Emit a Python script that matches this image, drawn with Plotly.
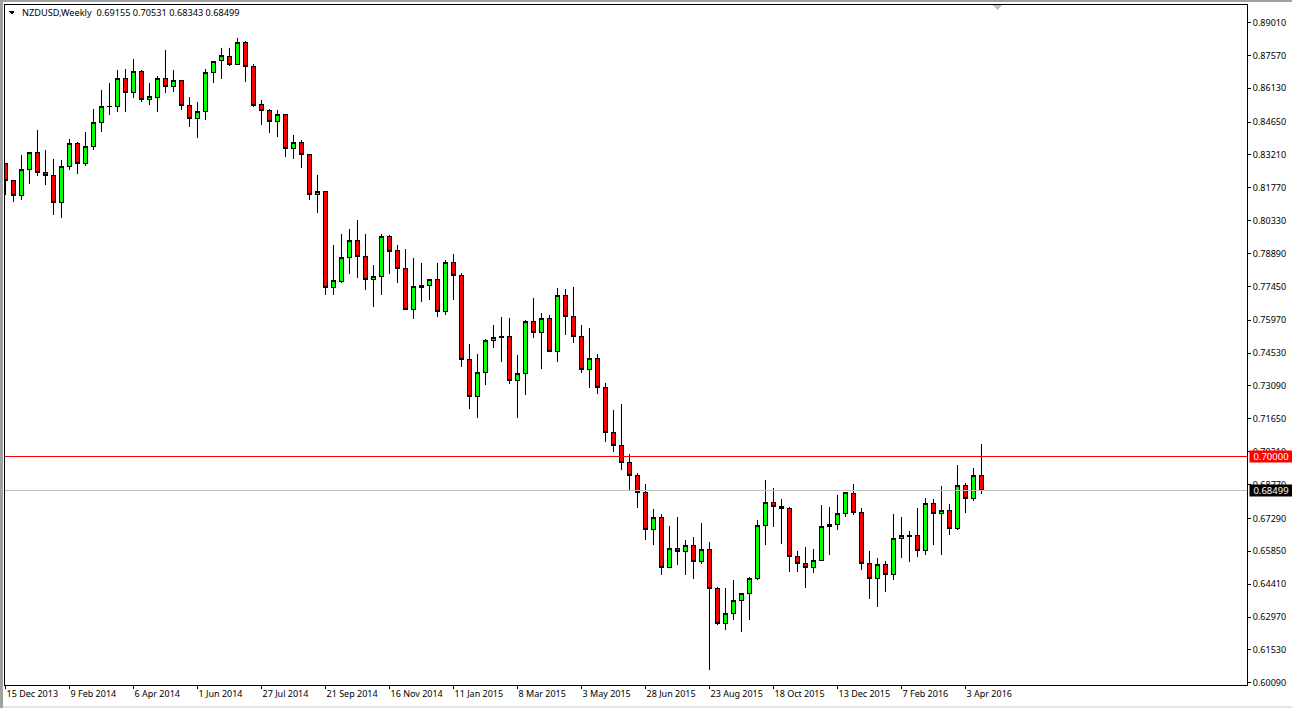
import pandas as pd
import plotly.graph_objects as go

opens = [.82820,.82075,.81418,.82557,.83301,.82425,.82294,.81111,.82688,.83696,.82820,.83564,.84615,.85316,.85345,.86543,.85959,.86849,.85652,.85740,
 .86543,.86221,.86455,.85360,.84791,.85097,.86805,.87331,.87506,.87156,.88119,.87068,.85404,.85141,.84659,.84966,.83477,.83739,.83214,.81462,
 .81593,.77418,.77680,.78702,.79447,.78746,.77739,.77870,.79622,.79009,.78221,.76425,.77418,.77476,.77739,.76337,.78483,.77914,.74235,.72614,
 .73665,.75067,.75198,.75242,.73315,.73622,.75899,.75417,.76031,.74585,.77038,.76118,.75242,.73797,.74279,.73008,.71037,.70468,.69723,.69154,
 .68409,.66789,.67314,.65124,.65957,.65825,.66088,.65387,.65913,.64205,.62672,.63110,.63679,.63986,.64643,.66964,.67971,.67796,.67709,.65606,
 .65300,.65124,.65431,.66920,.67008,.67490,.68366,.67533,.65300,.64643,.65256,.64818,.66395,.66511,.66526,.65869,.67928,.67490,.67621,.66833,
 .68716,.68147,.69155]
highs = [.82863,.82119,.83185,.83345,.84323,.83447,.83053,.82966,.83929,.83798,.84236,.85243,.86032,.86382,.86951,.86995,.87433,.86937,.86382,.86674,
 .87784,.86951,.86499,.85769,.85550,.86981,.87331,.87915,.87915,.88353,.88207,.87200,.85594,.85229,.85156,.84966,.84061,.83885,.83214,.82309,
 .81620,.79286,.79768,.79987,.80338,.79768,.78410,.79768,.79710,.79286,.79111,.78717,.78498,.77739,.78498,.78615,.78892,.78060,.74950,.74512,
 .75169,.75739,.76133,.76089,.74425,.75958,.76965,.76308,.76177,.77388,.77345,.77447,.75782,.75651,.74498,.73227,.72016,.72322,.70118,.69285,
 .68804,.67709,.67490,.66964,.67358,.66351,.66482,.67095,.66263,.64292,.64248,.64570,.64029,.64730,.67227,.68979,.68628,.68147,.67796,.65869,
 .66044,.65971,.67884,.67796,.68322,.68453,.68804,.67752,.65869,.65562,.65431,.67490,.67358,.66745,.67752,.68190,.68147,.68716,.67928,.69636,
 .68847,.69504,.70531]
lows = [.81447,.81141,.81257,.81958,.82279,.81914,.80557,.80469,.82528,.82396,.82717,.83447,.84236,.84980,.85112,.85112,.85725,.85550,.85418,.85112,
 .85944,.85988,.85199,.84455,.83973,.84761,.86382,.86557,.87097,.87156,.86426,.85331,.84542,.84192,.84017,.83141,.83053,.82659,.81257,.80688,
 .77067,.77096,.77593,.78016,.77841,.77315,.76571,.77096,.78016,.77622,.76425,.76045,.76790,.76877,.76133,.76220,.76834,.73943,.72103,.71709,
 .73111,.74775,.74162,.73198,.71709,.72716,.75213,.73855,.74585,.74162,.75301,.74994,.73680,.73023,.72760,.70658,.70220,.69388,.68541,.67767,
 .66365,.66146,.64832,.65124,.65227,.64832,.64657,.65314,.60642,.62628,.62423,.62818,.62336,.62861,.64570,.66146,.66935,.66190,.64964,.64964,
 .64263,.64920,.65431,.65665,.66760,.67373,.67460,.65051,.63781,.63431,.64088,.64570,.65577,.65402,.65621,.65665,.66146,.65708,.66584,.66760,
 .67548,.68044,.68343]
closes = [.82075,.81418,.82557,.83301,.82425,.82294,.81111,.82688,.83696,.82820,.83564,.84615,.85316,.85345,.86543,.85959,.86849,.85652,.85754,.86543,
 .86221,.86455,.85360,.84791,.85097,.86805,.87287,.87550,.87156,.88119,.87068,.85389,.85141,.84659,.84966,.83477,.83739,.83214,.81462,.81593,
 .77418,.77695,.78702,.79447,.78746,.77739,.77870,.79622,.78965,.78221,.76425,.77432,.77476,.77739,.76337,.78483,.77914,.74235,.72614,.73665,
 .75067,.75198,.75242,.73315,.73622,.75899,.75417,.76031,.74585,.77038,.76118,.75242,.73797,.74279,.73008,.71037,.70468,.69723,.69154,.68409,
 .66789,.67314,.65124,.65957,.65825,.66088,.65387,.65913,.64205,.62672,.63110,.63679,.63986,.64643,.66964,.67971,.67796,.67709,.65606,.65300,
 .65124,.65431,.66920,.67008,.67490,.68409,.67533,.65300,.64643,.65256,.64818,.66395,.66526,.66541,.65869,.67928,.67490,.67621,.66833,.68716,
 .68147,.69154,.68499]
week_start = "2013-12-15"
date_ticks = ["2013-12-15","2014-02-09","2014-04-06","2014-06-01","2014-07-27","2014-09-21","2014-11-16","2015-01-11",
              "2015-03-08","2015-05-03","2015-06-28","2015-08-23","2015-10-18","2015-12-13","2016-02-07","2016-04-03"]
date_labels = ["15 Dec 2013","9 Feb 2014","6 Apr 2014","1 Jun 2014","27 Jul 2014","21 Sep 2014","16 Nov 2014","11 Jan 2015",
               "8 Mar 2015","3 May 2015","28 Jun 2015","23 Aug 2015","18 Oct 2015","13 Dec 2015","7 Feb 2016","3 Apr 2016"]
price_ticks = [0.89010,0.87570,0.86130,0.84650,0.83210,0.81770,0.80330,0.78890,0.77450,0.75970,0.74530,
               0.73090,0.71650,0.70210,0.68770,0.67290,0.65850,0.64410,0.62970,0.61530,0.60090]
level_line = 0.70000
last_price = closes[-1]
header = "NZDUSD,Weekly  0.69155 0.70531 0.68343 0.68499"

dates = pd.date_range(week_start, periods=len(opens), freq="7D")
FONT = "Noto Sans"
fig = go.Figure(go.Candlestick(
    x=dates, open=opens, high=highs, low=lows, close=closes,
    increasing=dict(line=dict(color="black", width=1), fillcolor="#00ff00"),
    decreasing=dict(line=dict(color="black", width=1), fillcolor="#ff0000"),
    whiskerwidth=0, showlegend=False))

def tag(val, bg):
    return dict(x=1, xref="paper", xanchor="left", xshift=2, y=val, yref="y", yanchor="middle",
                text=f"{val:.5f}", showarrow=False, bgcolor=bg, width=42, height=11, borderpad=0,
                font=dict(family=FONT, size=9.5, color="white"))

fig.update_layout(
    width=1292, height=708, autosize=False,
    margin=dict(l=5, r=45, t=5, b=23, autoexpand=False),
    paper_bgcolor="white", plot_bgcolor="white", boxgap=0.5, boxgroupgap=0,
    font=dict(family=FONT, size=9, color="black"),
    xaxis=dict(type="date", range=["2013-12-14 13:30", "2016-12-05 07:30"], rangeslider=dict(visible=False),
               tickmode="array", tickvals=date_ticks, ticktext=date_labels, ticks="outside", ticklen=3,
               tickcolor="black", ticklabelposition="outside right", tickangle=0, showgrid=False, zeroline=False,
               automargin=False, showline=True, linecolor="black", linewidth=1, mirror=True, tickfont=dict(size=9)),
    yaxis=dict(side="right", range=[0.599925, 0.897765], tickmode="array", tickvals=price_ticks,
               ticktext=[f"{v:.5f}" for v in price_ticks], ticks="outside", ticklen=3, tickcolor="black",
               automargin=False, showgrid=False, zeroline=False, showline=True, linecolor="black", linewidth=1, mirror=True,
               tickfont=dict(size=9)),
    shapes=[
        dict(type="line", xref="paper", x0=0, x1=1, yref="y", y0=level_line, y1=level_line, line=dict(color="#ff0000", width=1), layer="above"),
        dict(type="line", xref="paper", x0=0, x1=1, yref="y", y0=last_price, y1=last_price, line=dict(color="#c0c0c0", width=1), layer="above"),
        dict(type="path", xref="paper", yref="paper", path="M 0.7955 1 L 0.8035 1 L 0.7995 0.9926 Z", fillcolor="#c0c0c0", line=dict(width=0)),
        dict(type="path", xref="paper", yref="paper", path="M 0.00266 0.9912 L 0.00805 0.9912 L 0.00535 0.9860 Z", fillcolor="black", line=dict(width=0)),
        dict(type="rect", xref="paper", yref="paper", x0=-0.00403, x1=-0.0018, y0=-0.034, y1=1.0074, fillcolor="#a0a0a0", line=dict(width=0)),
        dict(type="rect", xref="paper", yref="paper", x0=-0.00403, x1=1.0362, y0=1.0044, y1=1.0074, fillcolor="#a0a0a0", line=dict(width=0)),
        dict(type="rect", xref="paper", yref="paper", x0=-0.0018, x1=1.0362, y0=-0.0338, y1=-0.0309, fillcolor="#e4e4e4", line=dict(width=0)),
    ],
    annotations=[
        dict(x=0.0121, xref="paper", xanchor="left", y=0.989, yref="paper", yanchor="middle", text=header,
             showarrow=False, font=dict(family=FONT, size=9.2, color="black")),
        tag(level_line, "#ff0000"),
        tag(last_price, "#000000"),
    ],
)
crisp = "document.body.style.margin='0';document.querySelectorAll('.boxes path, .shapelayer path').forEach(function(p){p.style.shapeRendering='crispEdges';});"
fig.write_html("out.html", post_script=crisp, config=dict(displayModeBar=False))
